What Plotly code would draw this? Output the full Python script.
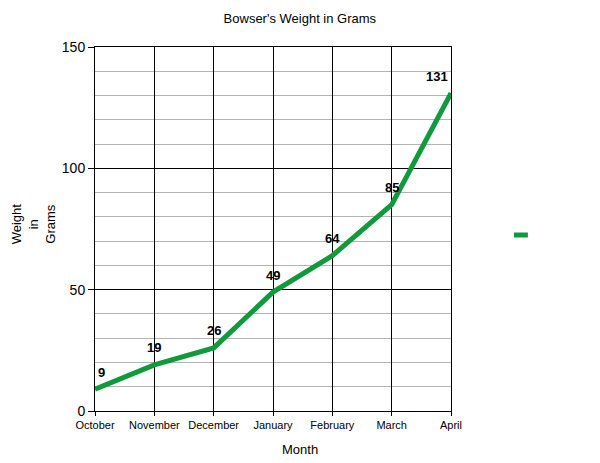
import plotly.graph_objects as go

meses = ["October", "November", "December", "January", "February", "March", "April"]
peso = [9, 19, 26, 49, 64, 85, 131]
y_ticks = [0, 50, 100, 150]

verde = "#109a3c"

# deslocamento horizontal dos rotulos nas bordas do grafico
desloc_x = [6] + [0] * (len(meses) - 2) + [-14]

fig = go.Figure()

fig.add_trace(go.Scatter(
    x=meses,
    y=peso,
    mode="lines",
    line=dict(color=verde, width=5),
    showlegend=False,
    cliponaxis=False
))

# rotulos de valor acima de cada ponto
for mes, valor, dx in zip(meses, peso, desloc_x):
    fig.add_annotation(
        x=mes, y=valor, text=str(valor), showarrow=False,
        yshift=17, xshift=dx,
        font=dict(family="Liberation Sans, Arial", size=13, color="black", weight="bold")
    )

fig.update_layout(
    width=592, height=455,
    margin=dict(l=87, r=149, t=39, b=52),
    paper_bgcolor="white",
    plot_bgcolor="white",
    font=dict(family="Liberation Sans, Arial", color="black"),
    title=dict(text="Bowser's Weight in Grams", x=0.493, xanchor="center", y=0.978,
               yanchor="middle", font=dict(size=13)),
    xaxis=dict(
        type="category",
        range=[0, len(meses) - 1],
        showgrid=True, gridcolor="black", gridwidth=1,
        showline=True, linecolor="black", linewidth=1, mirror=True,
        ticks="outside", ticklen=4, tickcolor="black",
        tickfont=dict(size=11),
        zeroline=False
    ),
    yaxis=dict(
        range=[0, 150],
        tickvals=y_ticks,
        showgrid=True, gridcolor="black", gridwidth=1,
        minor=dict(dtick=10, showgrid=True, gridcolor="#b4b4b4", gridwidth=1),
        showline=True, linecolor="black", linewidth=1, mirror=True,
        ticks="outside", ticklen=6, tickcolor="black",
        tickfont=dict(size=14),
        zeroline=False
    )
)

# titulo do eixo x
fig.add_annotation(
    text="Month", xref="paper", yref="paper",
    x=(292 - 87) / 356, y=-0.107, xanchor="center", yanchor="middle",
    showarrow=False, font=dict(size=13)
)

# titulo do eixo y em tres linhas
fig.add_annotation(
    text="Weight<br>in<br>Grams", xref="paper", yref="paper",
    x=-0.174, y=0.513, xanchor="center", yanchor="middle",
    showarrow=False, font=dict(size=13), textangle=-90
)

# marcador da legenda (sem texto)
fig.add_shape(type="line", xref="paper", yref="paper",
              x0=1.177, x1=1.216, y0=0.4835, y1=0.4835,
              line=dict(color=verde, width=5))

fig.write_html("out.html")
